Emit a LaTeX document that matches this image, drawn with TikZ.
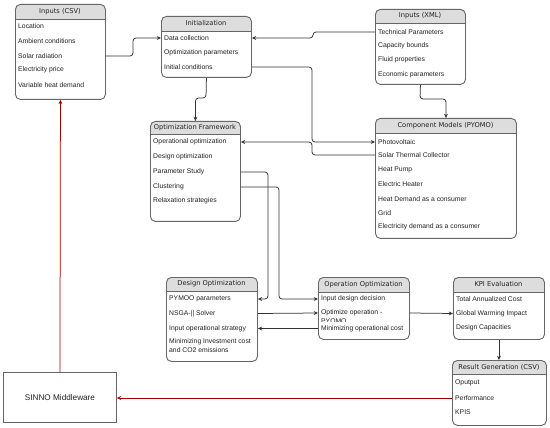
\documentclass[tikz,border=0pt]{standalone}
\usepackage{fontspec}
\setmainfont{Liberation Sans}
\newfontfamily\hdrfont{DejaVu Sans}
\usetikzlibrary{arrows.meta}
\definecolor{bordergray}{HTML}{666666}
\definecolor{hdrgray}{HTML}{DDDDDD}
\definecolor{linered}{HTML}{A00000}
\definecolor{txt}{HTML}{222222}
\definecolor{linegray}{HTML}{333333}
\tikzset{
  umlframe/.style={draw=bordergray, line width=0.9pt, rounded corners=5pt, anchor=north west, inner sep=0pt},
  item/.style={anchor=west, inner sep=0pt, font=\fontsize{6.8}{7.6}\selectfont, text=txt},
  hdr/.style={inner sep=0pt, font=\hdrfont\fontsize{6.7}{7.5}\selectfont, text=txt},
  conn/.style={draw=linegray, line width=0.75pt, rounded corners=3pt},
  arr/.style={-{Stealth[length=4.2pt,width=3.8pt]}},
  redconn/.style={draw=linered, line width=0.75pt, -{Stealth[length=4.2pt,width=3.8pt]}},
}
% name, left, top, right, bottom, header bottom, title
\newcommand\umlbox[7]{%
  \begin{scope}
    \clip[rounded corners=5pt] (#2,#3) rectangle (#4,#5);
    \fill[hdrgray] (#2,#3) rectangle (#4,#6);
  \end{scope}
  \draw[bordergray, line width=0.7pt] (#2,#6) -- (#4,#6);
  \node[umlframe, minimum width=#4-#2, minimum height=#5-#3] (#1) at (#2,#3) {};
  \node[hdr] (#1-title) at ({(#2+#4)/2},{(#3+#6)/2}) {#7};
}
\begin{document}
\begin{tikzpicture}[x=1pt,y=-1pt]
\useasboundingbox[fill=white] (0,0) rectangle (550,428);

% Inputs (CSV)
\umlbox{csv}{15}{4}{105}{99}{19}{Inputs (CSV)}
\node[item] (csv1) at (18,26) {Location};
\node[item] (csv2) at (18,41) {Ambient conditions};
\node[item] (csv3) at (18,56) {Solar radiation};
\node[item] (csv4) at (18,70) {Electricity price};
\node[item] (csv5) at (18,85) {Variable heat demand};

% Initialization
\umlbox{init}{161}{16}{251}{77}{31}{Initialization}
\node[item] (init1) at (164,38) {Data collection};
\node[item] (init2) at (164,53) {Optimization parameters};
\node[item] (init3) at (164,67) {Initial conditions};

% Inputs (XML)
\umlbox{xml}{375}{9}{465}{84}{23}{Inputs (XML)}
\node[item] (xml1) at (378,32) {Technical Parameters};
\node[item] (xml2) at (378,46) {Capacity bounds};
\node[item] (xml3) at (378,60) {Fluid properties};
\node[item] (xml4) at (378,75) {Economic parameters};

% Optimization Framework
\umlbox{opt}{150}{121}{240}{221}{134}{Optimization Framework}
\node[item] (opt1) at (153,142) {Operational optimization};
\node[item] (opt2) at (153,157) {Design optimization};
\node[item] (opt3) at (153,172) {Parameter Study};
\node[item] (opt4) at (153,187) {Clustering};
\node[item] (opt5) at (153,201) {Relaxation strategies};

% Component Models (PYOMO)
\umlbox{cm}{375}{118}{516}{238}{133}{Component Models (PYOMO)}
\node[item] (cm1) at (378,142) {Photovoltaic};
\node[item] (cm2) at (378,155) {Solar Thermal Collector};
\node[item] (cm3) at (378,170) {Heat Pump};
\node[item] (cm4) at (378,184) {Electric Heater};
\node[item] (cm5) at (378,199) {Heat Demand as a consumer};
\node[item] (cm6) at (378,213) {Grid};
\node[item] (cm7) at (378,227) {Electricity demand as a consumer};

% Design Optimization
\umlbox{dopt}{166}{277}{257}{361}{291}{Design Optimization}
\node[item] (dopt1) at (169,299) {PYMOO parameters};
\node[item] (dopt2) at (169,313.5) {NSGA-|| Solver};
\node[item] (dopt3) at (169,328.5) {Input operational strategy};
\node[item] (dopt4) at (169,342) {Minimizing Investment cost};
\node[item] (dopt5) at (169,350) {and CO2 emissions};

% Operation Optimization
\umlbox{oopt}{318}{277}{409}{339}{292}{Operation Optimization}
\node[item] (oopt1) at (321,299) {Input design decision};
\node[item] (oopt2) at (321,313) {Optimize operation -};
\begin{scope}
  \clip (319,316) rectangle (408,321);
  \node[item] (oopt2b) at (321,321.5) {PYOMO};
\end{scope}
\node[item] (oopt3) at (321,328.5) {Minimizing operational cost};

% KPI Evaluation
\umlbox{kpi}{453}{277}{544}{339}{292}{KPI Evaluation}
\node[item] (kpi1) at (456,299) {Total Annualized Cost};
\node[item] (kpi2) at (456,313.5) {Global Warming Impact};
\node[item] (kpi3) at (456,328) {Design Capacities};

% Result Generation (CSV)
\umlbox{res}{452}{360}{546}{425}{374}{Result Generation (CSV)}
\node[item] (res1) at (455,383) {Oputput};
\node[item] (res2) at (455,398) {Performance};
\node[item] (res3) at (455,412) {KPIS};

% SINNO Middleware
\node[draw=bordergray, line width=0.9pt, anchor=north west, minimum width=113, minimum height=50,
      inner sep=0pt, font=\fontsize{8.2}{9}\selectfont, text=txt] (sinno) at (3,372) {SINNO Middleware};

% connectors
\draw[conn, arr] (csv3 -| csv.east) -- (133,56) |- (init1 -| init.west);
\draw[conn, arr] (xml1 -| xml.west) -- (313,32) |- (init1 -| init.east);
\draw[conn, arr] (init.south) -- (206,98) -| (opt.north);
\draw[conn, arr] (xml.south) -- (420,99) -| (cm.north);
\draw[conn, arr] (init3 -| init.east) -- (312,67) |- (cm1 -| cm.west);
\draw[conn, arr] (cm2 -| cm.west) -- (312,155) |- (opt1 -| opt.east);
\draw[conn, arr] (opt3 -| opt.east) -- (268,172) |- (dopt1 -| dopt.east);
\draw[conn, arr] (opt4 -| opt.east) -- (279,187) |- (oopt1 -| oopt.west);
\draw[conn, arr] (dopt2 -| dopt.east) -- (oopt2 -| oopt.west);
\draw[conn, arr] (oopt3 -| oopt.west) -- (dopt3 -| dopt.east);
\draw[conn, arr] (oopt2 -| oopt.east) -- (kpi2 -| kpi.west);
\draw[conn, arr] (kpi.south) -- (res.north -| kpi.south);
\draw[redconn] (res2 -| res.west) -- (sinno.east |- res2);
\draw[redconn] (sinno.north) -- (csv.south);
\end{tikzpicture}
\end{document}
